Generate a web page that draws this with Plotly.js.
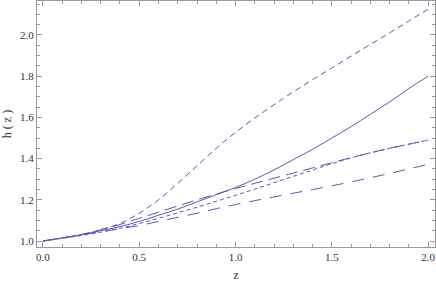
<!DOCTYPE html>
<html>
<head>
<meta charset="utf-8">
<script src="https://cdn.plot.ly/plotly-3.0.1.min.js"></script>
<style>html,body{margin:0;padding:0;background:#fff;}#chart{width:436px;height:284px;}</style>
</head>
<body>
<div id="chart"></div>
<script>
const z = [0.0,0.1,0.2,0.3,0.4,0.5,0.6,0.7,0.8,0.9,1.0,1.1,1.2,1.3,1.4,1.5,1.6,1.7,1.8,1.9,2.0];
const hSolid   = [1.000,1.015,1.030,1.050,1.070,1.095,1.125,1.155,1.190,1.225,1.260,1.300,1.345,1.395,1.445,1.500,1.555,1.615,1.675,1.740,1.800];
const hTop     = [1.000,1.015,1.030,1.055,1.085,1.135,1.200,1.280,1.365,1.450,1.527,1.597,1.662,1.724,1.783,1.840,1.897,1.954,2.010,2.068,2.125];
const hLong    = [1.000,1.015,1.032,1.055,1.080,1.110,1.140,1.170,1.200,1.228,1.255,1.280,1.305,1.330,1.355,1.380,1.405,1.428,1.450,1.470,1.490];
const hDotted  = [1.000,1.013,1.027,1.043,1.062,1.085,1.110,1.137,1.164,1.193,1.222,1.252,1.283,1.314,1.345,1.375,1.403,1.428,1.450,1.470,1.490];
const hLowest  = [1.000,1.015,1.030,1.045,1.060,1.075,1.095,1.115,1.135,1.157,1.177,1.196,1.214,1.232,1.250,1.268,1.287,1.307,1.328,1.350,1.372];
const xTicks = [0.0,0.5,1.0,1.5,2.0];
const xTickText = ['0.0','0.5','1.0','1.5','2.0'];
const yTicks = [1.0,1.2,1.4,1.6,1.8,2.0];
const yTickText = ['1.0','1.2','1.4','1.6','1.8','2.0'];

const col = 'rgb(90,90,180)';
function tr(y, dash){
  return {x: z, y: y, type:'scatter', mode:'lines', line:{color:col, width:1, dash:dash, shape:'spline', smoothing:1}, hoverinfo:'skip'};
}
const data = [
  tr(hSolid,'solid'),
  tr(hTop,'6px,4px'),
  tr(hLong,'12px,6px'),
  tr(hDotted,'4px,3px'),
  tr(hLowest,'12px,9px')
];
const axisCommon = {
  showgrid:false, zeroline:false, showline:true, linecolor:'#999', linewidth:1,
  mirror:'allticks', ticks:'inside', ticklen:5, tickcolor:'#999', tickwidth:1,
  tickfont:{family:'Liberation Serif, Times New Roman, serif', size:11, color:'#333'},
  tickmode:'array'
};
const layout = {
  width:436, height:284,
  margin:{l:37, r:1, t:1, b:37},
  paper_bgcolor:'#fff', plot_bgcolor:'#fff',
  showlegend:false,
  xaxis: Object.assign({}, axisCommon, {
    range:[-0.031, 2.036], tickvals:xTicks, ticktext:xTickText,
    minor:{dtick:0.1, tick0:0, ticks:'inside', ticklen:3, tickcolor:'#999'},
    title:{text:'z', font:{family:'Liberation Serif, Times New Roman, serif', size:12, color:'#333'}, standoff:8}
  }),
  yaxis: Object.assign({}, axisCommon, {
    range:[0.971, 2.165], tickvals:yTicks, ticktext:yTickText,
    minor:{dtick:0.05, tick0:0, ticks:'inside', ticklen:3, tickcolor:'#999'},
    title:{text:'h ( z )', font:{family:'Liberation Serif, Times New Roman, serif', size:12, color:'#333'}, standoff:6}
  })
};
Plotly.newPlot('chart', data, layout, {displayModeBar:false, staticPlot:true});
</script>
</body>
</html>
